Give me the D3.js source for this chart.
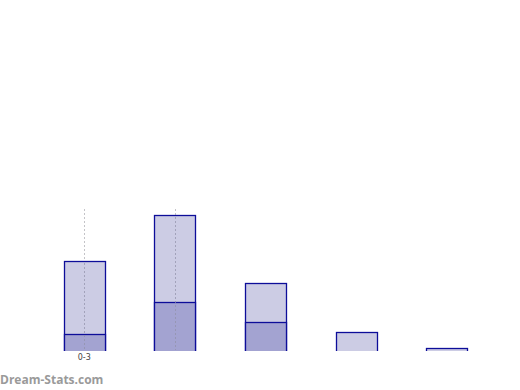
<!DOCTYPE html>
<html>
<head>
<meta charset="utf-8">
<script src="https://cdn.jsdelivr.net/npm/d3@7"></script>
<style>
  body { margin: 0; background: #fff; }
</style>
</head>
<body>
<div id="chart"></div>
<script>
// categories and values
var categories = ["0-3", "4-7", "8-11", "12-15", "16-19"];
var totals = [89, 135, 67, 18, 2];
var inner = [16, 48, 28, 0, 0];
var tickLabels = ["0-3"];
var gridCats = ["0-3", "4-7"];
var gridTop = 141;

var svg_width = 520;
var svg_height = 390;

var svg = d3.select("#chart")
            .append("svg")
            .attr("width", svg_width)
            .attr("height", svg_height)
            .style("font-family", "'DejaVu Sans', sans-serif");

// scales
var x = d3.scaleBand()
          .domain(categories)
          .range([39, 492])
          .paddingInner(0.547)
          .paddingOuter(0.2735);

var y = d3.scaleLinear()
          .domain([0, 150])
          .range([350, 200]);

var data = categories.map((c, i) => ({cat: c, total: totals[i], inner: inner[i]}));

var gx = d => Math.round(x(d) + x.bandwidth() / 2) + 0.5;

// dotted grid lines
svg.append("g")
   .attr("class", "grid")
   .selectAll("line")
   .data(gridCats)
   .enter()
   .append("line")
   .attr("x1", gx)
   .attr("x2", gx)
   .attr("y1", y(gridTop))
   .attr("y2", y(0))
   .style("stroke", "#c4c4c8")
   .style("stroke-width", 1)
   .style("stroke-dasharray", "2,2");

// outer bars
svg.append("g")
   .selectAll("rect")
   .data(data)
   .enter()
   .append("rect")
   .attr("x", d => Math.round(x(d.cat)) + 0.5)
   .attr("y", d => y(d.total) + 0.5)
   .attr("width", Math.round(x.bandwidth()))
   .attr("height", d => y(0) - y(d.total) + 2)
   .style("fill", "#ccccE4")
   .style("stroke", "#0d0d99")
   .style("stroke-width", 1.3);

// inner bars
svg.append("g")
   .selectAll("rect")
   .data(data.filter(d => d.inner > 0))
   .enter()
   .append("rect")
   .attr("x", d => Math.round(x(d.cat)) + 0.5)
   .attr("y", d => y(d.inner) + 0.5)
   .attr("width", Math.round(x.bandwidth()))
   .attr("height", d => y(0) - y(d.inner) + 2)
   .style("fill", "#a3a3d1")
   .style("stroke", "#0d0d99")
   .style("stroke-width", 1.3);

// grid drawn again over the bars
svg.append("g")
   .selectAll("line")
   .data(gridCats)
   .enter()
   .append("line")
   .attr("x1", gx)
   .attr("x2", gx)
   .attr("y1", d => y(totals[categories.indexOf(d)]) + 2)
   .attr("y2", y(0))
   .style("stroke", "#9090a8")
   .style("stroke-opacity", 0.7)
   .style("stroke-dasharray", "2,2");

// white strip clipping bar bottoms
svg.append("rect")
   .attr("x", 0)
   .attr("y", y(0) + 1)
   .attr("width", svg_width)
   .attr("height", 40)
   .style("fill", "#fff");

// x tick labels
svg.append("g")
   .selectAll("text")
   .data(tickLabels)
   .enter()
   .append("text")
   .attr("x", d => x(d) + x.bandwidth() / 2)
   .attr("y", y(0) + 10)
   .attr("text-anchor", "middle")
   .style("font-size", "8px")
   .style("fill", "#444")
   .text(d => d);

// watermark
svg.append("text")
   .attr("x", 0)
   .attr("y", 384)
   .style("font-family", "'Open Sans', sans-serif")
   .style("font-size", "12px")
   .style("font-weight", "bold")
   .style("fill", "#9a9a9a")
   .text("Dream-Stats.com");
</script>
</body>
</html>
